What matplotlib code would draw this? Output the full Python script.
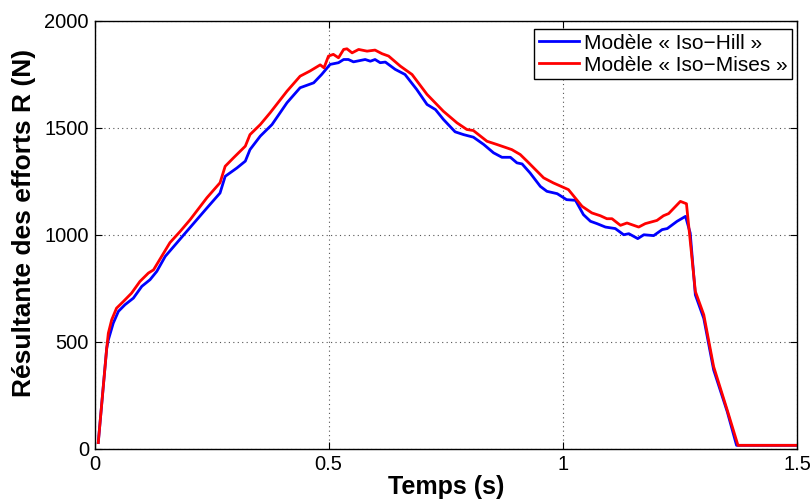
import matplotlib
matplotlib.use("Agg")
import matplotlib.pyplot as plt

# Data
t_hill = [0.008, 0.026, 0.0295, 0.040, 0.051, 0.065, 0.083, 0.101, 0.1185, 0.133, 0.151, 0.197,
          0.240, 0.268, 0.279, 0.304, 0.322, 0.332, 0.354, 0.379, 0.411, 0.439, 0.468, 0.485,
          0.503, 0.521, 0.532, 0.542, 0.553, 0.578, 0.589, 0.599, 0.610, 0.621, 0.642, 0.663,
          0.688, 0.710, 0.728, 0.745, 0.770, 0.788, 0.809, 0.831, 0.852, 0.870, 0.888, 0.902,
          0.913, 0.930, 0.952, 0.966, 0.988, 1.008, 1.027, 1.044, 1.059, 1.073, 1.091, 1.112,
          1.130, 1.141, 1.160, 1.173, 1.194, 1.212, 1.223, 1.244, 1.262, 1.272, 1.283, 1.301,
          1.322, 1.351, 1.371, 1.5]
r_hill = [30, 470, 510, 588, 643, 674, 705, 760, 791, 830, 900, 1017,
          1126, 1196, 1274, 1313, 1345, 1399, 1462, 1516, 1618, 1688, 1711, 1750,
          1797, 1805, 1820, 1820, 1809, 1820, 1812, 1820, 1805, 1808, 1774, 1750,
          1680, 1610, 1586, 1540, 1482, 1469, 1457, 1423, 1384, 1363, 1363, 1337,
          1332, 1290, 1227, 1204, 1193, 1165, 1162, 1095, 1064, 1053, 1037, 1030,
          1001, 1006, 983, 1001, 997, 1025, 1030, 1064, 1087, 1009, 720, 610,
          370, 175, 17, 17]

t_mises = [0.008, 0.026, 0.0295, 0.0367, 0.047, 0.0615, 0.079, 0.097, 0.115, 0.126, 0.161, 0.183,
           0.204, 0.240, 0.268, 0.279, 0.297, 0.322, 0.332, 0.354, 0.375, 0.411, 0.439, 0.460,
           0.482, 0.490, 0.4996, 0.510, 0.521, 0.532, 0.539, 0.550, 0.564, 0.582, 0.599, 0.614,
           0.628, 0.653, 0.678, 0.710, 0.745, 0.774, 0.795, 0.809, 0.838, 0.859, 0.891, 0.909,
           0.924, 0.959, 0.980, 1.012, 1.041, 1.062, 1.080, 1.094, 1.105, 1.123, 1.137, 1.162,
           1.176, 1.201, 1.215, 1.226, 1.251, 1.264, 1.283, 1.301, 1.322, 1.351, 1.374, 1.5]
r_mises = [30, 470, 541, 604, 658, 689, 728, 783, 822, 837, 964, 1017,
           1071, 1174, 1244, 1321, 1361, 1415, 1469, 1516, 1571, 1672, 1742, 1766,
           1795, 1781, 1836, 1844, 1828, 1867, 1870, 1851, 1867, 1859, 1864, 1847,
           1836, 1789, 1750, 1657, 1578, 1524, 1493, 1488, 1438, 1423, 1399, 1376,
           1344, 1267, 1243, 1212, 1134, 1103, 1090, 1076, 1076, 1045, 1056, 1037,
           1053, 1068, 1090, 1100, 1157, 1146, 736, 627, 385, 182, 17, 17]

x_ticks = [0, 0.5, 1, 1.5]
x_labels = ["0", "0.5", "1", "1.5"]
y_ticks = [0, 500, 1000, 1500, 2000]
y_labels = ["0", "500", "1000", "1500", "2000"]

plt.rcParams['font.family'] = ['Liberation Sans', 'DejaVu Sans']

fig = plt.figure(figsize=(8.12, 5.03), dpi=100)
ax = fig.add_axes([0.1164, 0.1074, 0.8651, 0.8509])

ax.plot(t_hill, r_hill, color='#0000ff', lw=2.0, label="Modèle « Iso\u2212Hill »")
ax.plot(t_mises, r_mises, color='#ff0000', lw=2.0, label="Modèle « Iso\u2212Mises »")

ax.set_xlim(0, 1.5)
ax.set_ylim(0, 2000)
ax.set_xticks(x_ticks)
ax.set_xticklabels(x_labels)
ax.set_yticks(y_ticks)
ax.set_yticklabels(y_labels)
ax.tick_params(direction='in', top=True, right=True, labelsize=14.5, length=5, width=0.8, pad=4)
ax.grid(True, linestyle=(0, (1, 3)), color='#555555', lw=0.8)
for s in ax.spines.values():
    s.set_linewidth(1.0)

ax.set_xlabel("Temps (s)", fontsize=18, fontweight='bold', labelpad=1)
ax.set_ylabel("Résultante des efforts R (N)", fontsize=19, fontweight='bold')
ax.yaxis.set_label_coords(-0.083, 0.527)

leg = ax.legend(loc='upper right', bbox_to_anchor=(0.9929, 0.9813), fontsize=15,
                frameon=True, fancybox=False, edgecolor='black', framealpha=1,
                handlelength=1.9, handletextpad=0.25, borderpad=0.22,
                labelspacing=0.15, borderaxespad=0.0)
leg.get_frame().set_linewidth(1.0)
for line in leg.get_lines():
    line.set_linewidth(2.0)

fig.savefig("out.png", dpi=100)
